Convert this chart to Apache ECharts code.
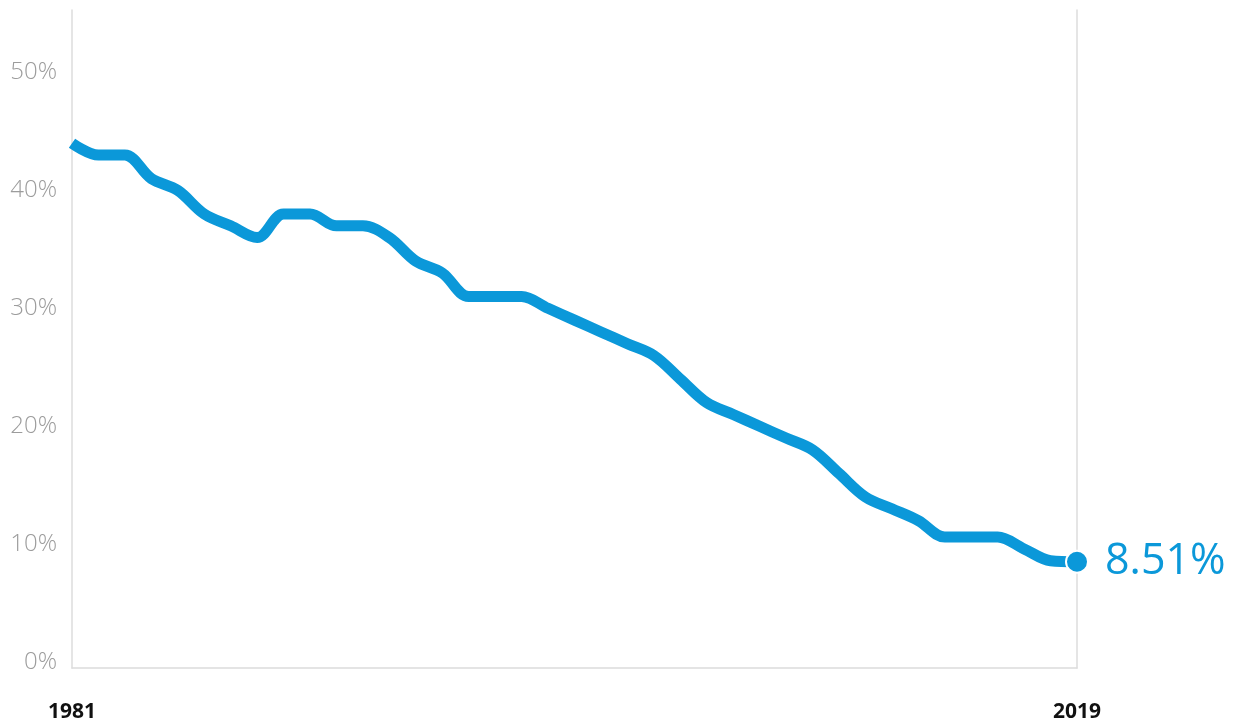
<!DOCTYPE html>
<html>
<head>
<meta charset="utf-8">
<script src="https://cdn.jsdelivr.net/npm/echarts@6/dist/echarts.min.js"></script>
<style>
  html, body { margin: 0; padding: 0; background: #fff; }
  #chart { width: 1238px; height: 724px; }
</style>
</head>
<body>
<div id="chart"></div>
<script>
// Years along the horizontal axis
const years = [];
for (let y = 1981; y <= 2019; y++) years.push(String(y));

// Share (%) per year
const shares = [
  44, 43, 43, 41, 40, 38, 37, 36, 38, 38,
  37, 37, 36, 34, 33, 31, 31, 31, 30, 29,
  28, 27, 26, 24, 22, 21, 20, 19, 18, 16,
  14, 13, 12, 10.6, 10.6, 10.6, 9.6, 8.6, 8.51
];

// Values labelled on the vertical axis
const yTicks = [0, 10, 20, 30, 40, 50];

const blue = '#0b98d9';
const axisGrey = '#dcdcdc';
const lastIdx = shares.length - 1;

const chart = echarts.init(document.getElementById('chart'), null, { renderer: 'canvas' });

chart.setOption({
  animation: false,
  grid: { left: 72, right: 161, top: 10, bottom: 56, containLabel: false },
  xAxis: {
    type: 'category',
    data: years,
    boundaryGap: false,
    axisLine: { show: true, onZero: false, lineStyle: { color: axisGrey, width: 1.5 } },
    axisTick: { show: false },
    axisLabel: {
      interval: (i) => i === 0 || i === lastIdx,
      showMinLabel: true,
      showMaxLabel: true,
      margin: 34,
      color: '#111',
      fontFamily: 'Open Sans',
      fontWeight: 'bold',
      fontSize: 21,
      align: 'center'
    },
    splitLine: { show: false }
  },
  yAxis: [
    {
      type: 'value',
      min: -0.5,
      max: 55.3,
      position: 'left',
      axisLine: { show: true, onZero: false, lineStyle: { color: axisGrey, width: 1.5 } },
      axisTick: { show: false },
      splitLine: { show: false },
      axisLabel: {
        customValues: yTicks,
        formatter: (v) => v + '%',
        margin: 15,
        color: '#9c9c9c',
        fontFamily: 'Open Sans',
        fontWeight: 300,
        fontSize: 24
      }
    },
    {
      type: 'value',
      min: -0.5,
      max: 55.3,
      position: 'right',
      axisLine: { show: true, onZero: false, lineStyle: { color: axisGrey, width: 1.5 } },
      axisTick: { show: false },
      splitLine: { show: false },
      axisLabel: { show: false }
    }
  ],
  series: [
    {
      type: 'line',
      data: shares,
      yAxisIndex: 0,
      smooth: 0.35,
      showSymbol: true,
      showAllSymbol: true,
      symbol: (v, params) => (params.dataIndex === lastIdx ? 'circle' : 'none'),
      symbolSize: 22,
      itemStyle: { color: blue, borderColor: '#fff', borderWidth: 2 },
      lineStyle: { color: blue, width: 11, cap: 'butt', join: 'round' },
      endLabel: {
        show: true,
        formatter: (p) => p.value + '%',
        color: blue,
        fontFamily: 'Open Sans',
        fontSize: 43,
        distance: 28
      },
      emphasis: { disabled: true },
      z: 3
    }
  ]
});
</script>
</body>
</html>
